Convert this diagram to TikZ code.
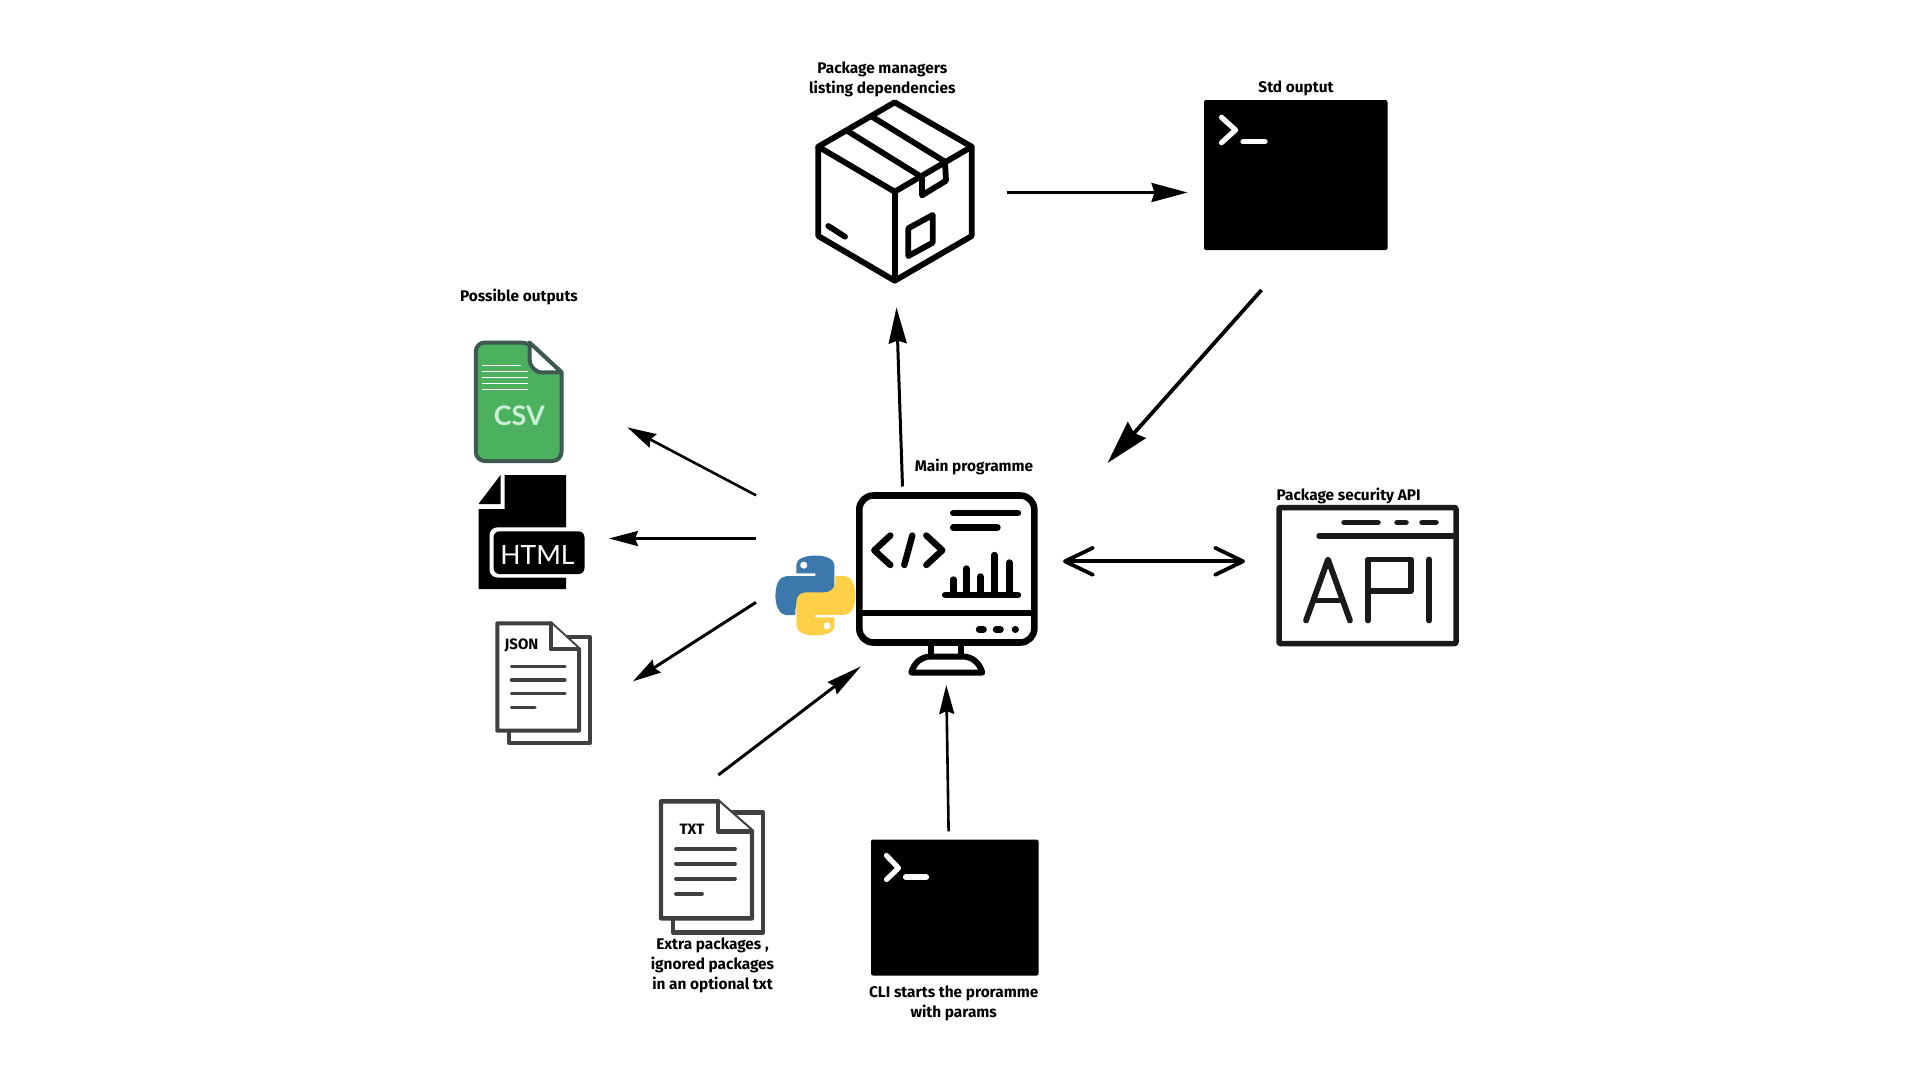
\documentclass[tikz,border=0pt]{standalone}
\usepackage{fontspec}
\setmainfont{Fira Sans}
\newfontfamily\iconfont{Lato}
\usetikzlibrary{arrows.meta}
\definecolor{csvgreen}{HTML}{4CB15E}
\definecolor{csvedge}{HTML}{3C5A50}
\definecolor{csvtext}{HTML}{CBEFD4}
\definecolor{docgrey}{HTML}{404040}
\definecolor{pyblue}{HTML}{3C78AB}
\definecolor{pyyellow}{HTML}{FDD047}
\definecolor{apiink}{HTML}{1A1A1A}
\tikzset{
  label/.style={font=\fontsize{15.4}{20}\selectfont\bfseries, text=black, align=center, inner sep=0pt},
  icon/.style={line width=5.8pt, line join=round, line cap=round, draw=black},
  docline/.style={draw=docgrey, line width=4pt, line cap=round, line join=round, fill=white},
  cursor/.style={draw=white, line width=5.2pt, line cap=round, line join=round},
  apistroke/.style={draw=apiink, line width=5.5pt, line cap=round, line join=round},
  arr/.style={line width=#1, draw=black},
  arr/.default=3pt,
  termbox/.style={fill=black, rounded corners=2pt},
}
\begin{document}
\begin{tikzpicture}[x=1pt,y=-1pt]
\useasboundingbox (0,0) rectangle (1920,1080);
\fill[white] (0,0) rectangle (1920,1080);

% Package box
\draw[icon] (894.7,102.3) -- (971.7,146.7) -- (971.7,236) -- (894.7,280.7) -- (818.3,236) -- (818.3,146.7) -- cycle;
\draw[icon] (818.3,146.7) -- (894.7,191.7) -- (971.7,146.7);
\draw[icon] (894.7,191.7) -- (894.7,280.7);
\draw[icon] (846.7,130.5) -- (920,176);
\draw[icon] (871.7,116.5) -- (945,161.7);
\draw[icon] (922,176) -- (922,195.3) -- (946,180.7) -- (945,161.7);
\draw[icon] (908.3,228.3) -- (932.7,215) -- (932.7,242.7) -- (908.3,256) -- cycle;
\draw[icon] (828.3,226) -- (845,236.7);
\node[label] (pkglabel) at (882.3,79) {Package managers\\listing dependencies};

% Std output terminal
\fill[termbox] (1204,100) rectangle (1387.5,250);
\draw[cursor] (1221.5,117.3) -- (1235.5,130) -- (1221.5,142.7);
\draw[cursor] (1243,141.7) -- (1265,141.7);
\node[label] (stdlabel) at (1296,88.2) {Std ouptut};

% Possible outputs
\node[label] (outlabel) at (519,297) {Possible outputs};
\begin{scope}[shift={(-1.2,-1)}]
\draw[csvedge,line width=4pt,fill=csvgreen,line join=round,rounded corners=9pt] (562.7,373.3) -- (562.7,462) -- (477,462) -- (477,343.5) -- (530.7,343.5) [sharp corners] -- cycle;
\draw[csvedge,line width=4pt,fill=white,line join=round] (530.7,343.5) -- (562.7,373.3) -- (544,373.5) .. controls (536,373.5) and (530.7,367) .. (530.7,360) -- cycle;
\foreach \yy/\xx in {366/521.7,372.3/529,378.3/529,384.3/529,390.3/529}
  \draw[white,line width=0.9pt] (483.3,\yy) -- (\xx,\yy);
\node[inner sep=0pt,text=csvtext,font=\iconfont\bfseries\fontsize{27}{27}\selectfont] (csvlabel) at (520.5,417) {CSV};
\end{scope}

\begin{scope}[shift={(-0.5,-1)}]
\fill[black] (505,476) -- (566.5,476) -- (566.5,590) -- (479,590) -- (479,510) -- (505,510) -- cycle;
\fill[black] (501,476) -- (501,505) -- (479,505) -- cycle;
\fill[white,rounded corners=8pt] (490,528.3) rectangle (592,578.5);
\fill[black,rounded corners=6pt] (494,532.3) rectangle (585,575);
\node[inner sep=0pt,text=white,font=\iconfont\fontsize{26.5}{26}\selectfont] (htmllabel) at (538,556) {HTML};
\end{scope}

% JSON document
\draw[docline] (565,636.7) -- (590,636.7) -- (590,743.3) -- (509,743.3) -- (509,725);
\draw[docline] (550.7,623.3) -- (497.3,623.3) -- (497.3,730.7) -- (579,730.7) -- (579,649.3) -- cycle;
\draw[docline] (550.7,623.3) -- (550.7,649.3) -- (579,649.3);
\foreach \yy in {666.7,680,693.7} \draw[docgrey,line width=3.4pt,line cap=round] (511.5,\yy) -- (565,\yy);
\draw[docgrey,line width=3.4pt,line cap=round] (511.5,707.3) -- (535,707.3);
\node[inner sep=0pt,font=\fontsize{15}{16}\selectfont\bfseries] (jsonlabel) at (521.5,645.5) {JSON};

% Main monitor
\begin{scope}[shift={(-3.7,-3.5)}]
\draw[icon,line width=6.6pt,rounded corners=14pt] (863,499) rectangle (1038,646);
\draw[icon,line width=6.6pt,line cap=butt] (863,616.5) -- (1038,616.5);
\draw[icon,line width=7pt] (983,633) -- (987,633);
\draw[icon,line width=7pt] (1000,633) -- (1004,633);
\draw[icon,line width=7pt] (1019,633) -- (1019.1,633);
\draw[icon,line width=6pt,line cap=butt] (935,648) -- (935,660);
\draw[icon,line width=6pt,line cap=butt] (965,648) -- (965,660);
\draw[icon,line width=6pt,line cap=round] (915,676) .. controls (918,666) and (925,660) .. (935,660) -- (966,660) .. controls (976,660) and (983,666) .. (986,676) -- cycle;
\draw[icon,line width=6.4pt] (894,539) -- (878,553.8) -- (894,568.5);
\draw[icon,line width=6.4pt] (916,539) -- (908,568.5);
\draw[icon,line width=6.4pt] (930,539) -- (946,553.8) -- (930,568.5);
\draw[icon,line width=6.8pt] (957,516.5) -- (1021.5,516.5);
\draw[icon,line width=6.8pt] (957,531) -- (1001,531);
\draw[icon,line width=6.8pt] (949,598.5) -- (1021.5,598.5);
\foreach \xx/\yy in {957/583,970/572,984/580,998/558.5,1013/566}
  \draw[icon,line width=6.4pt] (\xx,\yy) -- (\xx,598.5);
\end{scope}
\node[label] (mainlabel) at (974,466.5) {Main programme};

% Python logo
\begin{scope}[shift={(770.4,449.5)},x=0.3333pt,y=-0.3333pt]
\fill[pyblue,even odd rule]
  (78,372) -- (78,345) .. controls (78,328) and (105,318) .. (135,318)
  .. controls (165,318) and (192,328) .. (192,347) -- (192,420)
  .. controls (192,435) and (180,447) .. (165,447) -- (110,447)
  .. controls (90,447) and (75,460) .. (75,480) -- (75,497) -- (48,497)
  .. controls (28,497) and (15,470) .. (15,438) .. controls (15,405) and (28,380) .. (48,380)
  -- (135,380) -- (135,372) -- cycle
  (111,347) arc[start angle=0,end angle=360,radius=11];
\fill[pyyellow,even odd rule]
  (192,504) -- (192,531) .. controls (192,548) and (165,558) .. (135,558)
  .. controls (105,558) and (78,548) .. (78,529) -- (78,456)
  .. controls (78,441) and (90,429) .. (105,429) -- (160,429)
  .. controls (180,429) and (195,416) .. (195,396) -- (195,379) -- (222,379)
  .. controls (242,379) and (255,406) .. (255,438) .. controls (255,471) and (242,496) .. (222,496)
  -- (135,496) -- (135,504) -- cycle
  (181,529) arc[start angle=0,end angle=360,radius=11];
\end{scope}

% API window
\begin{scope}[shift={(-7,-1.5)}]
\draw[apistroke,rounded corners=1pt] (1286,509) rectangle (1463,645);
\draw[apistroke] (1326,537.5) -- (1463,537.5);
\draw[apistroke] (1351,524) -- (1385,524);
\draw[apistroke] (1404,524) -- (1413,524);
\draw[apistroke] (1429,524) -- (1443,524);
\draw[apistroke,line width=5.8pt] (1313,622) -- (1335,561) -- (1357,622);
\draw[apistroke,line width=5.8pt] (1321,602) -- (1349,602);
\draw[apistroke,line width=5.8pt] (1375,622) -- (1375,561) -- (1418,561) -- (1418,592.5) -- (1375,592.5);
\draw[apistroke,line width=5.8pt] (1436,561) -- (1436,622);
\end{scope}
\node[label,anchor=west] (apilabel) at (1276.5,496) {Package security API};

% TXT document
\begin{scope}[shift={(-4,-3.7)}]
\draw[docline,line width=4.4pt] (730,816) -- (767,816) -- (767,936) -- (677,936) -- (677,920);
\draw[docline,line width=4.4pt] (722,805) -- (665,805) -- (665,922) -- (756,922) -- (756,835) -- cycle;
\draw[docline,line width=4.4pt] (722,805) -- (722,835) -- (756,835);
\foreach \yy in {852.5,867.5,882.5} \draw[docgrey,line width=3.8pt,line cap=round] (680,\yy) -- (739,\yy);
\draw[docgrey,line width=3.8pt,line cap=round] (680,897.5) -- (706,897.5);
\node[inner sep=0pt,font=\fontsize{15}{16}\selectfont\bfseries] (txtlabel) at (696,833) {TXT};
\end{scope}
\node[label] (txtcaption) at (712.5,965.5) {Extra packages ,\\ignored packages\\in an optional txt};

% CLI terminal
\begin{scope}[shift={(-4.5,-4.5)}]
\fill[termbox] (875.5,844) rectangle (1043,980);
\draw[cursor] (891,860) -- (903,872.5) -- (891,884);
\draw[cursor] (910,881.5) -- (931,881.5);
\end{scope}
\node[label] (clilabel) at (953.7,1003.3) {CLI starts the proramme\\with params};

% Connector end points
\coordinate (a1) at (1007,192.5);
\coordinate (a2) at (1187.5,192.5);
\coordinate (b1) at (1261.5,290);
\coordinate (b2) at (1107.5,463);
\coordinate (c1) at (902.5,486.5);
\coordinate (c2) at (896.5,307.5);
\coordinate (d1) at (756,495.3);
\coordinate (d2) at (627.3,427.3);
\coordinate (e1) at (756,538.5);
\coordinate (e2) at (609,538.5);
\coordinate (f1) at (756,602.3);
\coordinate (f2) at (633,681.3);
\coordinate (g1) at (718.3,775);
\coordinate (g2) at (861,666.3);
\coordinate (h1) at (948.6,831.3);
\coordinate (h2) at (946.3,685);
\coordinate (i1) at (1063,561.3);
\coordinate (i2) at (1245,561.3);

% Connectors
\draw[arr=3pt,-{Stealth[length=36pt,width=19pt,inset=3pt]}] (a1) -- (a2);
\draw[arr=3.8pt,-{Stealth[length=44pt,width=24pt,inset=4pt]}] (b1) -- (b2);
\draw[arr=3pt,-{Stealth[length=36pt,width=18pt,inset=3pt]}] (c1) -- (c2);
\draw[arr=2.6pt,-{Stealth[length=29pt,width=15pt,inset=3pt]}] (d1) -- (d2);
\draw[arr=2.6pt,-{Stealth[length=29pt,width=15pt,inset=3pt]}] (e1) -- (e2);
\draw[arr=3pt,-{Stealth[length=28pt,width=15pt,inset=3pt]}] (f1) -- (f2);
\draw[arr=3pt,-{Stealth[length=36pt,width=15pt,inset=3pt]}] (g1) -- (g2);
\draw[arr=2.6pt,-{Stealth[length=29pt,width=15pt,inset=3pt]}] (h1) -- (h2);
\draw[arr=3.8pt,{Straight Barb[length=28pt,width=27pt,round]}-{Straight Barb[length=28pt,width=27pt,round]}] (i1) -- (i2);
\end{tikzpicture}
\end{document}
